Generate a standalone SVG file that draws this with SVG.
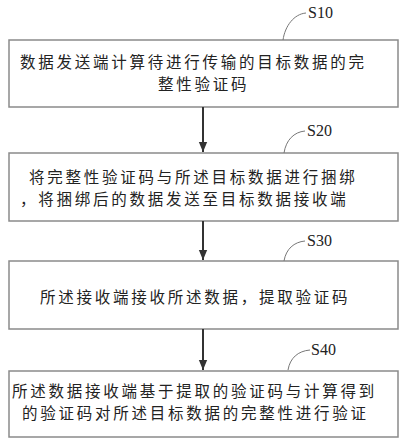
<svg xmlns="http://www.w3.org/2000/svg" width="406" height="444" viewBox="0 0 406 444">
<style>
.box{fill:#fff;stroke:#8a8a8a;stroke-width:1.5}
.t{font-family:"Noto Sans CJK SC","Noto Sans CJK JP",sans-serif;font-size:15.5px;letter-spacing:2.75px;fill:#222}
.lab{font-family:"Liberation Serif","Times New Roman",serif;font-size:16px;fill:#222}
.lead{fill:none;stroke:#777;stroke-width:1}
.conn{stroke:#333;stroke-width:2;fill:none}
</style>
<defs>
<marker id="arr" markerWidth="10" markerHeight="12" refX="12" refY="5" orient="auto" markerUnits="userSpaceOnUse" viewBox="0 0 12 10">
<path d="M0,0 L12,5 L0,10 Z" fill="#333"/>
</marker>
</defs>
<rect width="406" height="444" fill="#fff"/>
<g id="S10">
<rect class="box" x="9" y="40" width="389" height="67"/>
<text class="t" x="20" y="68">数据发送端计算待进行传输的目标数据的完</text>
<text class="t" x="158" y="90">整性验证码</text>
<path class="lead" d="M283,40 C285,26 294,14 306,13"/>
<text class="lab" x="308" y="18">S10</text>
</g>
<g id="S20">
<rect class="box" x="9" y="153" width="389" height="68"/>
<text class="t" x="29" y="183">将完整性验证码与所述目标数据进行捆绑</text>
<text class="t" x="20" y="205">，将捆绑后的数据发送至目标数据接收端</text>
<path class="lead" d="M284,153 C286,140 294,132 305,131"/>
<text class="lab" x="307" y="136">S20</text>
</g>
<g id="S30">
<rect class="box" x="9" y="261" width="389" height="68"/>
<text class="t" x="40" y="303">所述接收端接收所述数据，提取验证码</text>
<path class="lead" d="M284,261 C286,249 294,242 305,241"/>
<text class="lab" x="307" y="246">S30</text>
</g>
<g id="S40">
<rect class="box" x="9" y="371" width="389" height="66"/>
<text class="t" x="12" y="397">所述数据接收端基于提取的验证码与计算得到</text>
<text class="t" x="22" y="419">的验证码对所述目标数据的完整性进行验证</text>
<path class="lead" d="M288,370 C290,358 298,351 310,350"/>
<text class="lab" x="311" y="355">S40</text>
</g>
<g id="connectors">
<line class="conn" x1="203" y1="107" x2="203" y2="152" marker-end="url(#arr)"/>
<line class="conn" x1="203" y1="221" x2="203" y2="260" marker-end="url(#arr)"/>
<line class="conn" x1="203" y1="329" x2="203" y2="370" marker-end="url(#arr)"/>
</g>
</svg>
